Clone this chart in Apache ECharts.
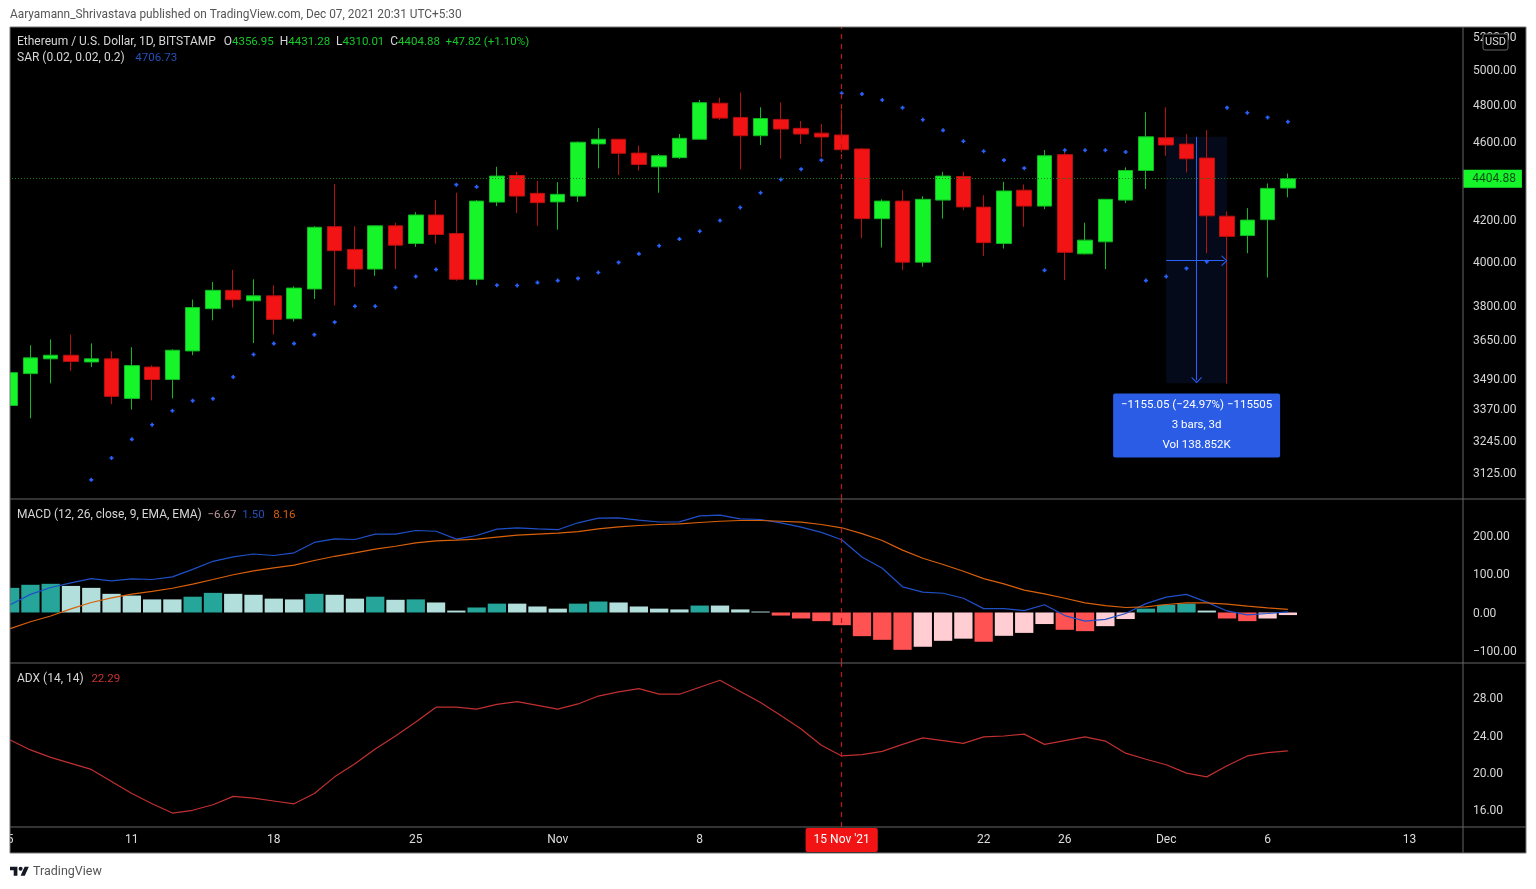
<!DOCTYPE html>
<html>
<head>
<meta charset="utf-8">
<title>ETH/USD</title>
<script src="https://cdn.jsdelivr.net/npm/echarts@6/dist/echarts.min.js"></script>
<style>
html, body { margin: 0; padding: 0; background: #fff; }
#chart { width: 1536px; height: 889px; }
</style>
</head>
<body>
<div id="chart"></div>
<script>
var categories = [
    'Oct 5','Oct 6','Oct 7','Oct 8','Oct 9','Oct 10','Oct 11','Oct 12','Oct 13','Oct 14','Oct 15','Oct 16','Oct 17','Oct 18',
    'Oct 19','Oct 20','Oct 21','Oct 22','Oct 23','Oct 24','Oct 25','Oct 26','Oct 27','Oct 28','Oct 29','Oct 30','Oct 31',
    'Nov 1','Nov 2','Nov 3','Nov 4','Nov 5','Nov 6','Nov 7','Nov 8','Nov 9','Nov 10','Nov 11','Nov 12','Nov 13','Nov 14',
    'Nov 15','Nov 16','Nov 17','Nov 18','Nov 19','Nov 20','Nov 21','Nov 22','Nov 23','Nov 24','Nov 25','Nov 26','Nov 27',
    'Nov 28','Nov 29','Nov 30','Dec 1','Dec 2','Dec 3','Dec 4','Dec 5','Dec 6','Dec 7',
    'Dec 8','Dec 9','Dec 10','Dec 11','Dec 12','Dec 13','Dec 14','Dec 15'
];
var dateLabels = {
    'Oct 5':'5','Oct 11':'11','Oct 18':'18','Oct 25':'25','Nov 1':'Nov','Nov 8':'8',
    'Nov 22':'22','Nov 26':'26','Dec 1':'Dec','Dec 6':'6','Dec 13':'13'
};
var crossDate = 'Nov 15';
var crossLabel = "15 Nov '21";

var opens = [3381,3509,3570,3585,3557,3570,3409,3536,3485,3603,3785,3867,3820,3842,3741,3873,4165,4056,3964,4169,4084,4222,4132,3917,4286,4421,4330,
    4287,4316,4587,4612,4538,4466,4514,4612,4810,4731,4631,4720,4671,4645,4635,4560,4204,4291,3996,4296,4416,4261,4084,4346,4266,4530,4035,4092,4296,4447,
    4620,4586,4512,4216,4122,4199,4356.95];
var closes = [3513,3574,3585,3559,3570,3417,3542,3485,3606,3790,3867,3825,3842,3738,3877,4162,4050,3964,4169,4076,4222,4127,3917,4291,4418,4316,4283,
    4325,4596,4612,4537,4478,4524,4617,4813,4727,4631,4725,4667,4640,4624,4556,4204,4291,3996,4300,4418,4262,4088,4342,4266,4524,4042,4100,4300,4447,4625,
    4581,4508,4218,4118,4197,4355,4404.88];
var highs = [3540,3627,3652,3673,3635,3602,3619,3543,3610,3825,3905,3960,3917,3890,3885,4167,4377,4167,4172,4184,4236,4296,4333,4296,4466,4440,4393,
    4387,4600,4672,4612,4578,4533,4640,4828,4841,4870,4787,4815,4711,4695,4772,4565,4300,4346,4316,4440,4440,4321,4389,4375,4554,4554,4184,4300,4463,4760,
    4787,4640,4662,4240,4256,4380,4431.28];
var lows = [3360,3331,3469,3520,3536,3386,3365,3401,3409,3585,3734,3790,3636,3673,3729,3828,3800,3882,3933,3964,4068,4084,3910,3890,4266,4232,4169,
    4150,4287,4458,4423,4447,4333,4507,4612,4716,4453,4581,4508,4586,4517,4541,4109,4065,3959,3975,4204,4246,4025,4060,4164,4251,3913,4032,3964,4281,4352,
    4524,4437,4038,3468,4038,3925,4310.01];
var sarValues = [null,null,null,null,3100,3180,3250,3306,3360,3400,3408,3495,3588,3634,3634,3672,3726,3796,3796,3880,3930,3962,4374,4363,3890,3889,3902,
    3911,3921,3948,3995,4035,4073,4105,4143,4195,4259,4333,4401,4454,4501,4866,4862,4828,4785,4718,4660,4601,4548,4501,4459,3958,4553,4553,4553,4544,3911,
    3930,3967,3998,4785,4757,4731,4706.73];
var macdHist = [64,72,74.5,69,64,48.5,44,34,34,41,51,48.5,46,36,34,48.5,46,36,41,33,34,26,5,13,23,23,15.6,
    10,23,28.5,26,15.6,10,8,18,18,8,2.5,-8,-15.6,-22.5,-33,-61.5,-71,-97,-89,-73.6,-68,-76,-60.6,-53,-30,-45,-48.5,-35.5,-17,10,
    20,23,5,-15.6,-22.5,-15.6,-6.67];
var macdLine = [20,47,65,77,88,82,87.4,85.7,92.6,112,133,144.6,152,148,155,182,191,189.6,203.5,203.5,213,211,190.5,200,216.5,220,217,
    215,233,245,246,240,235,235.5,251,253,243,241.5,233,221.6,208,189,144,115,66.7,53,50,37,10,10,5,20,-8,-22.5,-18,-2.6,23,
    40,47,27,4,-6,-2.6,1.5];
var signalLine = [-42,-24,-9,9.5,26,38,47.6,55,63,73.6,85.7,98,108,116,123,135,146,155,164.5,172,181,186,188,190.5,195.7,200.8,203.5,
    206,210,217,222.5,226,228.6,230,233.8,237,239,239,237,234.6,228.6,220,205,187,162,141,124.7,107,88,74.5,58,48.5,37,25,18,13,14.7,
    20.8,25,25,21.6,16.5,12,8.16];
var adxLine = [23.47,22.4,21.6,20.95,20.3,19,17.7,16.6,15.6,15.9,16.5,17.4,17.2,16.9,16.6,17.7,19.5,20.9,22.5,23.9,25.4,27,27,26.8,27.3,27.6,27.2,
    26.8,27.35,28.2,28.65,29,28.4,28.4,29.15,29.9,28.7,27.5,26.1,24.65,22.9,21.75,21.9,22.25,23,23.7,23.4,23.1,23.8,23.9,24.1,23,23.4,23.8,23.35,22.05,21.4,
    20.8,19.9,19.5,20.7,21.75,22.1,22.29];

var priceTicks = [3125,3245,3370,3490,3650,3800,4000,4200,4600,4800,5000,5200];
var macdTicks = [-100,0,100,200];
var adxTicks = [16,20,24,28];
var lastPrice = 4404.88;

// measure tool drawn on the chart
var measureDates = ['Dec 1','Dec 4'];
var measurePrices = [4625,3470];
var measureMidIndex = 58.5;
var measureMidPrice = 4003;
var measureStartIndex = 57;
var measureArrowEndIndex = 59.87;
var measureArrowEndPrice = 3482;
var measureBoxPrice = 3303;
var measureText = '\u22121155.05 (\u221224.97%) \u2212115505\n3 bars, 3d\nVol 138.852K';

var FONT = 'Roboto';
var UP = '#16f52a', UP_EDGE = '#10b822', DOWN = '#f21414', DOWN_EDGE = '#b80f0f';
var BAND = 20.31, LEFT = -2.05;
var chartWidth = BAND * categories.length;

var candleData = opens.map(function (o, i) {
    return [o, closes[i], lows[i], highs[i]];
});

function histColor(params) {
    var v = macdHist[params.dataIndex];
    var prev = params.dataIndex > 0 ? macdHist[params.dataIndex - 1] : -Infinity;
    if (v >= 0) return v > prev ? '#26a69a' : '#b2dfdb';
    return v < prev ? '#ff5252' : '#ffcdd2';
}

var crossStyle = {color: '#bc1616', width: 1.2, type: [5, 5]};

function crossMark() {
    return {
        silent: true, symbol: 'none', animation: false, label: {show: false},
        lineStyle: crossStyle,
        data: [{xAxis: crossDate}]
    };
}

var chevron = 'path://M0,10 L5,0 L10,10 L9,10.6 L5,2.4 L1,10.6 Z';
var plus = 'path://M1.5,0 H3.5 V1.5 H5 V3.5 H3.5 V5 H1.5 V3.5 H0 V1.5 H1.5 Z';

function rowTitle(text, left, top, rich) {
    return {
        text: text, left: left, top: top, padding: 0,
        textStyle: {fontFamily: FONT, fontSize: 12, fontWeight: 'normal', color: '#ccc', rich: rich}
    };
}

function richStyle(color, size, padLeft) {
    return {color: color, fontFamily: FONT, fontSize: size || 12, padding: [0, 0, 0, padLeft || 0]};
}

function priceAxisLabel(values, formatter) {
    // top aligned with a short line box, sits the digits a little below the tick like the original
    return {
        customValues: values, margin: 12.7, verticalAlign: 'top', lineHeight: 3, color: '#d6d6d6', fontFamily: FONT, fontSize: 12,
        formatter: formatter
    };
}

function fixed2(v) {
    return (v < 0 ? '\u2212' : '') + Math.abs(Number(v)).toFixed(2);
}

var option = {
    animation: false,
    backgroundColor: '#fff',
    title: [
        {
            text: 'Aaryamann_Shrivastava published on TradingView.com, Dec 07, 2021 20:31 UTC+5:30',
            left: 10, top: 9, padding: 0,
            textStyle: {fontFamily: FONT, fontSize: 11.85, fontWeight: 'normal', color: '#555'}
        },
        rowTitle('{w|Ethereum / U.S. Dollar, 1D, BITSTAMP  }{o|O}{g|4356.95}{w|  H}{g|4431.28}{w|  L}{g|4310.01}{w|  C}{g|4404.88}{g|  +47.82 (+1.10%)}', 17, 36,
            {w: richStyle('#d6d6d6'), o: richStyle('#d6d6d6', 12, 2), g: richStyle('#16c828', 11.5)}),
        rowTitle('{w|SAR (0.02, 0.02, 0.2)}{b|   4706.73}', 17, 52, {w: richStyle('#d6d6d6'), b: richStyle('#2450b8', 11.5, 2)}),
        rowTitle('{w|MACD (12, 26, close, 9, EMA, EMA)}{p|  \u22126.67}{b|  1.50}{o|   8.16}', 17, 509,
            {w: richStyle('#d6d6d6'), p: richStyle('#c49aa0', 11.5), b: richStyle('#2450b8', 11.5), o: richStyle('#d9600a', 11.5)}),
        rowTitle('{w|ADX (14, 14)}{r|  22.29}', 17, 673, {w: richStyle('#d6d6d6'), r: richStyle('#c83232', 11.5, 2)})
    ],
    grid: [
        {left: LEFT, top: 27, width: chartWidth, height: 472},
        {left: LEFT, top: 499, width: chartWidth, height: 164},
        {left: LEFT, top: 663, width: chartWidth, height: 164}
    ],
    xAxis: [
        {type: 'category', gridIndex: 0, data: categories, axisLine: {show: false}, axisTick: {show: false}, axisLabel: {show: false}},
        {type: 'category', gridIndex: 1, data: categories, axisLine: {show: false}, axisTick: {show: false}, axisLabel: {show: false}},
        {
            type: 'category', gridIndex: 2, data: categories, axisLine: {show: false}, axisTick: {show: false},
            axisLabel: {
                interval: 0, hideOverlap: false, margin: 13, verticalAlign: 'middle', color: '#ddd', fontFamily: FONT, fontSize: 12,
                formatter: function (v) {
                    if (v === crossDate) return '{tag|' + crossLabel + '}';
                    return dateLabels[v] || '';
                },
                rich: {tag: {backgroundColor: DOWN, color: '#fff', fontFamily: FONT, fontSize: 12, padding: [6, 8], borderRadius: 2}}
            }
        },
        {type: 'value', gridIndex: 0, show: false, min: -0.5, max: categories.length - 0.5}
    ],
    yAxis: [
        {
            type: 'log', gridIndex: 0, position: 'right', min: 3031.6, max: 5257, splitLine: {show: false},
            axisLine: {show: false}, axisTick: {show: false},
            axisLabel: priceAxisLabel(priceTicks, fixed2)
        },
        {
            type: 'value', gridIndex: 1, position: 'right', min: -131.2, max: 294.8, splitLine: {show: false},
            axisLine: {show: false}, axisTick: {show: false},
            axisLabel: priceAxisLabel(macdTicks, fixed2)
        },
        {
            type: 'value', gridIndex: 2, position: 'right', min: 14.1, max: 31.76, splitLine: {show: false},
            axisLine: {show: false}, axisTick: {show: false},
            axisLabel: priceAxisLabel(adxTicks, fixed2)
        }
    ],
    series: [
        {
            name: 'ETHUSD', type: 'candlestick', xAxisIndex: 0, yAxisIndex: 0, data: candleData, barWidth: 15, z: 3,
            itemStyle: {color: UP, color0: DOWN, borderColor: UP_EDGE, borderColor0: DOWN_EDGE, borderWidth: 1},
            markArea: {
                silent: true,
                itemStyle: {color: 'rgba(41,98,255,0.1)'},
                data: [[{xAxis: measureDates[0], yAxis: measurePrices[0]}, {xAxis: measureDates[1], yAxis: measurePrices[1]}]]
            },
            markLine: {
                silent: true, symbol: 'none', animation: false,
                data: [
                    {
                        yAxis: lastPrice,
                        lineStyle: {color: '#0e7a1c', width: 1, type: [1, 2]},
                        label: {
                            show: true, position: 'end', distance: 3, formatter: lastPrice.toFixed(2),
                            backgroundColor: UP, color: '#0b4f16', fontFamily: FONT, fontSize: 12, padding: [3, 6, 3, 9]
                        }
                    },
                    {xAxis: crossDate, lineStyle: crossStyle, label: {show: false}}
                ]
            }
        },
        {
            name: 'SAR', type: 'scatter', xAxisIndex: 0, yAxisIndex: 0, data: sarValues, symbol: plus, symbolSize: 4, z: 4,
            itemStyle: {color: '#2962ff', opacity: 1}
        },
        {
            name: 'Measure', type: 'scatter', xAxisIndex: 3, yAxisIndex: 0, z: 5,
            data: [[measureMidIndex, measureBoxPrice]], symbolSize: 0,
            itemStyle: {opacity: 1},
            label: {
                show: true, position: 'inside', formatter: measureText, color: '#fff', fontFamily: FONT, fontSize: 11.5,
                lineHeight: 20, align: 'center', backgroundColor: '#2a5ce6', borderRadius: 2, width: 167, height: 64, padding: 0
            },
            markLine: {
                silent: true, animation: false, symbol: ['none', chevron], symbolSize: [11, 6],
                label: {show: false},
                lineStyle: {color: '#2962ff', width: 1, type: 'solid'},
                itemStyle: {color: '#2962ff'},
                data: [
                    [{coord: [measureMidIndex, measurePrices[0]]}, {coord: [measureMidIndex, measureArrowEndPrice]}],
                    [{coord: [measureStartIndex, measureMidPrice]}, {coord: [measureArrowEndIndex, measureMidPrice]}]
                ]
            }
        },
        {
            name: 'Histogram', type: 'bar', xAxisIndex: 1, yAxisIndex: 1, data: macdHist, barWidth: 18.3, z: 2,
            itemStyle: {color: histColor},
            markLine: crossMark()
        },
        {
            name: 'MACD', type: 'line', xAxisIndex: 1, yAxisIndex: 1, data: macdLine, showSymbol: false, z: 3,
            lineStyle: {color: '#2050c8', width: 1.2}
        },
        {
            name: 'Signal', type: 'line', xAxisIndex: 1, yAxisIndex: 1, data: signalLine, showSymbol: false, z: 3,
            lineStyle: {color: '#d9600a', width: 1.2}
        },
        {
            name: 'ADX', type: 'line', xAxisIndex: 2, yAxisIndex: 2, data: adxLine, showSymbol: false, z: 3,
            lineStyle: {color: '#c03030', width: 1.2},
            markLine: crossMark()
        }
    ],
    graphic: [
        {type: 'rect', z: -10, shape: {x: 10, y: 27, width: 1516, height: 826}, style: {fill: '#000'}},
        // white margin hides the left half of the first bar
        {type: 'rect', z: 90, shape: {x: 0, y: 0, width: 10, height: 889}, style: {fill: '#fff'}},
        {type: 'rect', z: 91, shape: {x: 10, y: 27, width: 1516, height: 826}, style: {fill: 'none', stroke: '#777', lineWidth: 1}},
        {type: 'line', z: 91, shape: {x1: 1463, y1: 27, x2: 1463, y2: 853}, style: {stroke: '#666', lineWidth: 1}},
        {type: 'line', z: 91, shape: {x1: 10, y1: 499, x2: 1526, y2: 499}, style: {stroke: '#666', lineWidth: 1}},
        {type: 'line', z: 91, shape: {x1: 10, y1: 663, x2: 1526, y2: 663}, style: {stroke: '#666', lineWidth: 1}},
        {type: 'line', z: 91, shape: {x1: 10, y1: 827, x2: 1526, y2: 827}, style: {stroke: '#666', lineWidth: 1}},
        {type: 'rect', z: 92, shape: {x: 1483, y: 34, width: 25, height: 16, r: 2}, style: {fill: '#000', stroke: '#666', lineWidth: 1}},
        {type: 'text', z: 93, x: 1495.5, y: 42, style: {text: 'USD', fill: '#ddd', font: '11px Roboto', align: 'center', verticalAlign: 'middle'}},
        {type: 'polygon', z: 93, shape: {points: [[10, 866.7], [17.4, 866.7], [17.4, 875.7], [13.7, 875.7], [13.7, 870.2], [10, 870.2]]}, style: {fill: '#131722'}},
        {type: 'polygon', z: 93, shape: {points: [[20.6, 875.7], [24.8, 875.7], [28.8, 866.7], [24.6, 866.7]]}, style: {fill: '#131722'}},
        {type: 'circle', z: 93, shape: {cx: 20.6, cy: 868.7, r: 2}, style: {fill: '#131722'}},
        {type: 'text', z: 93, x: 33, y: 872, style: {text: 'TradingView', fill: '#555', font: '12.5px Roboto', align: 'left', verticalAlign: 'middle'}}
    ]
};

var chart = echarts.init(document.getElementById('chart'), null, {renderer: 'canvas'});
chart.setOption(option);
</script>
</body>
</html>
